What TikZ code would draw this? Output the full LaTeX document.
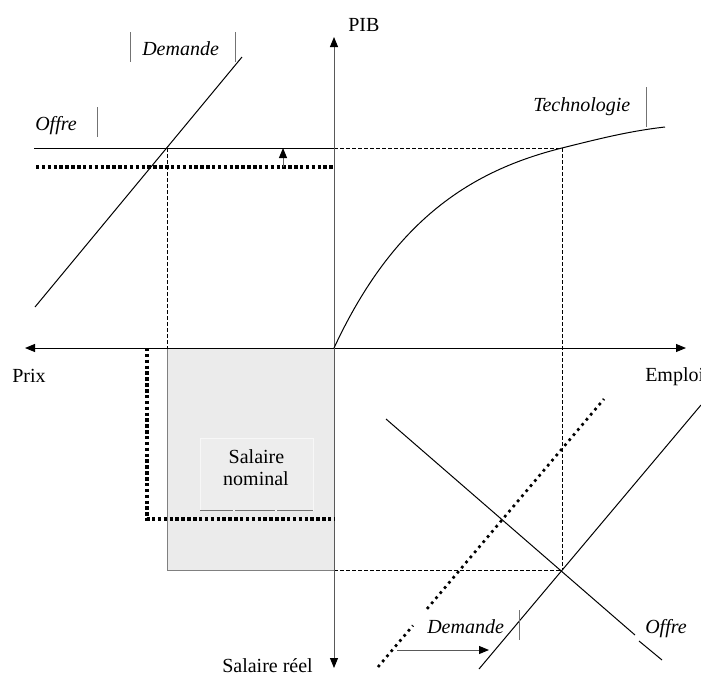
\documentclass[tikz,border=0pt]{standalone}
\usepackage{fontspec}
\setmainfont{Liberation Serif}
\usetikzlibrary{arrows.meta}
\begin{document}
\begin{tikzpicture}[x=0.75pt,y=-0.75pt,
  lbl/.style={inner sep=0pt, anchor=base west, font=\fontsize{15}{18}\selectfont},
  ilbl/.style={lbl, font=\fontsize{15}{18}\selectfont\itshape},
  solidln/.style={line width=0.75pt},
  dsh/.style={line width=0.6pt, dash pattern=on 3pt off 1.5pt},
  bigdots/.style={line width=2.4pt, dash pattern=on 2.6pt off 1.8pt},
  diagdots/.style={line width=2pt, dash pattern=on 2pt off 3pt},
  bar/.style={line width=0.6pt, draw=black!55},
  tip/.style={-{Triangle[length=7.5pt,width=6pt,color=black,fill=black]}}
]
\useasboundingbox (0,0) rectangle (701,675);
\coordinate (O) at (334,348);
% grey box (nominal wage)
\fill[black!8] (167,348) rectangle (334,570);
\draw[black!50, line width=0.75pt] (167,348) rectangle (334,570);
\filldraw[fill=black!7, draw=black!3, line width=0.6pt] (200,438) rectangle (313,510);
\draw[black!55, line width=0.6pt] (200,510)--(233,510) (235,510)--(275,510) (277,510)--(313,510);
\node[lbl, anchor=base] (sal1) at (256.5,463) {Salaire};
\node[lbl, anchor=base] (sal2) at (256,485) {nominal};
% dashed guide lines
\draw[dsh] (167,148) -- (167,348);
\draw[dsh] (334,148) -- (562,148);
\draw[dsh] (562,148) -- (562,570);
\draw[dsh] (334,570) -- (562,570);
% axes
\draw[solidln, tip] (O) -- (686,348);
\draw[solidln, tip] (O) -- (25,348);
\draw[solidln, black!65, tip] (O) -- (334,37);
\draw[solidln, black!65, tip] (O) -- (334,668);
% top-left quadrant
\draw[solidln] (34,148) -- (334,148);
\draw[bigdots] (36,167) -- (334,167);
\draw[solidln] (242,57) -- (35,307);
\draw[line width=0.75pt, black!60, tip] (283,167) -- (283,148);
% technology curve
\draw[solidln] (O) .. controls (394,219) and (472,170.5) .. (562,148)
  .. controls (600,138.5) and (630,131) .. (665,127);
% bottom-left thick dotted
\draw[bigdots] (147,348) -- (147,519) -- (334,519);
% bottom-right quadrant
\draw[solidln] (386,419) -- (635,635);
\draw[solidln] (639,641) -- (662,660);
\draw[solidln] (479,669) -- (701,405);
\draw[diagdots] (378,667) -- (413,625.5);
\draw[diagdots] (427,608.9) -- (604,399);
\draw[line width=0.75pt, black!65, tip] (397,650) -- (489,650);
% label bars
\draw[bar] (130,32) -- (130,62) (235,32) -- (235,62);
\draw[bar] (97,107) -- (97,137);
\draw[bar] (646,87) -- (646,127);
\draw[bar] (519,610) -- (519,640);
% labels
\node[lbl] (pib) at (348,31) {PIB};
\node[lbl] (prix) at (12,382) {Prix};
\node[lbl] (emploi) at (645,381) {Emploi};
\node[lbl] (sreel) at (222,672) {Salaire réel};
\node[ilbl] (dem1) at (142,55) {Demande};
\node[ilbl] (off1) at (35,130) {Offre};
\node[ilbl] (tech) at (533,111) {Technologie};
\node[ilbl] (dem2) at (427,633) {Demande};
\node[ilbl] (off2) at (645,633) {Offre};
\end{tikzpicture}
\end{document}
